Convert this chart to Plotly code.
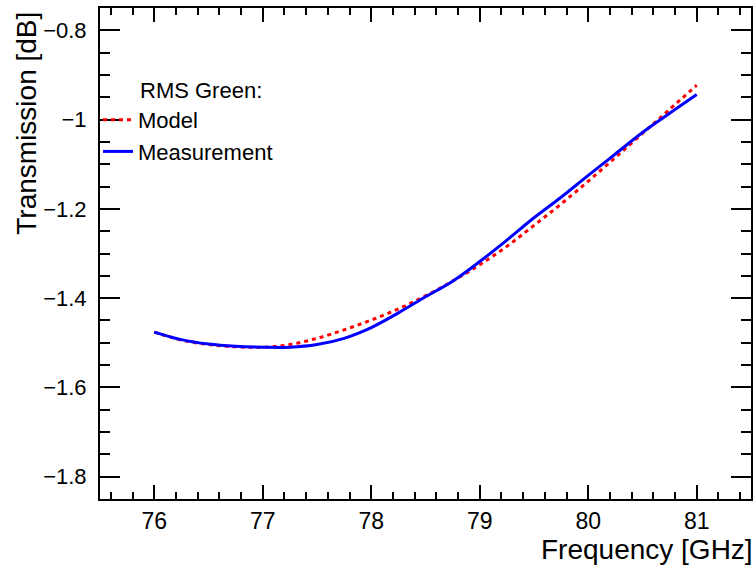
import plotly.graph_objects as go

# Frequency sweep [GHz]
freq = [76.0, 76.25, 76.5, 76.75, 77.0, 77.25, 77.5, 77.75, 78.0, 78.25, 78.5,
        78.75, 79.0, 79.25, 79.5, 79.75, 80.0, 80.25, 80.5, 80.75, 81.0]

# Transmission [dB], simulated model
model_db = [-1.476, -1.494, -1.504, -1.509, -1.510, -1.504, -1.490, -1.471, -1.449,
            -1.424, -1.395, -1.362, -1.325, -1.284, -1.237, -1.189, -1.138, -1.085,
            -1.031, -0.977, -0.923]

# Transmission [dB], measured
meas_db = [-1.476, -1.493, -1.503, -1.508, -1.510, -1.510, -1.504, -1.490, -1.466,
           -1.433, -1.397, -1.362, -1.318, -1.270, -1.220, -1.174, -1.125, -1.077,
           -1.029, -0.986, -0.944]

x_ticks = [76, 77, 78, 79, 80, 81]
y_ticks = [-0.8, -1.0, -1.2, -1.4, -1.6, -1.8]

FONT = "Liberation Sans, Arial, Helvetica, sans-serif"
W, H = 755, 574
ML, MR, MT, MB = 100, 2, 8, 75
PW, PH = W - ML - MR, H - MT - MB


def px_x(p):
    return (p - ML) / PW


def px_y(p):
    return 1 - (p - MT) / PH


fig = go.Figure()
fig.add_trace(go.Scatter(
    x=freq, y=model_db, mode="lines", name="Model",
    line=dict(color="#ff0000", width=3, dash="4px,4px", shape="spline"),
))
fig.add_trace(go.Scatter(
    x=freq, y=meas_db, mode="lines", name="Measurement",
    line=dict(color="#0000ff", width=3, shape="spline"),
))

axis_common = dict(
    showgrid=False, zeroline=False, showline=True, linecolor="black",
    linewidth=2, mirror="ticks", ticks="inside", tickcolor="black",
)

fig.update_xaxes(
    range=[75.5, 81.5], tickmode="array", tickvals=x_ticks,
    ticktext=[str(v) for v in x_ticks], ticklen=14, tickwidth=1.5,
    tickfont=dict(family=FONT, size=23, color="black"),
    minor=dict(ticks="inside", ticklen=7, dtick=0.2, tick0=76,
               tickcolor="black", tickwidth=1.5),
    **axis_common,
)
fig.update_yaxes(
    range=[-1.85, -0.75], tickmode="array", tickvals=y_ticks,
    ticktext=["\u22120.8", "\u22121", "\u22121.2", "\u22121.4", "\u22121.6", "\u22121.8"],
    ticklen=20, tickwidth=1.5, ticklabelstandoff=7,
    tickfont=dict(family=FONT, size=22, color="black"),
    minor=dict(ticks="inside", ticklen=10, dtick=0.05, tick0=-0.8,
               tickcolor="black", tickwidth=1.5),
    **axis_common,
)

fig.update_layout(
    width=W, height=H,
    margin=dict(l=ML, r=MR, t=MT, b=MB),
    paper_bgcolor="white", plot_bgcolor="white",
    font=dict(family=FONT, color="black"),
    showlegend=True,
    legend=dict(
        x=px_x(98), y=px_y(99), xanchor="left", yanchor="top",
        bgcolor="rgba(0,0,0,0)", borderwidth=0,
        font=dict(family=FONT, size=22, color="black"),
        itemwidth=30,
    ),
    annotations=[
        dict(text="RMS Green:", xref="paper", yref="paper",
             x=px_x(138), y=px_y(90), xanchor="left", yanchor="middle",
             showarrow=False, font=dict(family=FONT, size=22, color="black")),
        dict(text="Frequency [GHz]", xref="paper", yref="paper",
             x=px_x(757), y=px_y(549), xanchor="right", yanchor="middle",
             showarrow=False, font=dict(family=FONT, size=28, color="black")),
        dict(text="Transmission [dB]", xref="paper", yref="paper",
             x=px_x(26), y=px_y(10), xanchor="center", yanchor="top",
             textangle=-90, showarrow=False,
             font=dict(family=FONT, size=28, color="black")),
    ],
)

fig.write_html("out.html")
